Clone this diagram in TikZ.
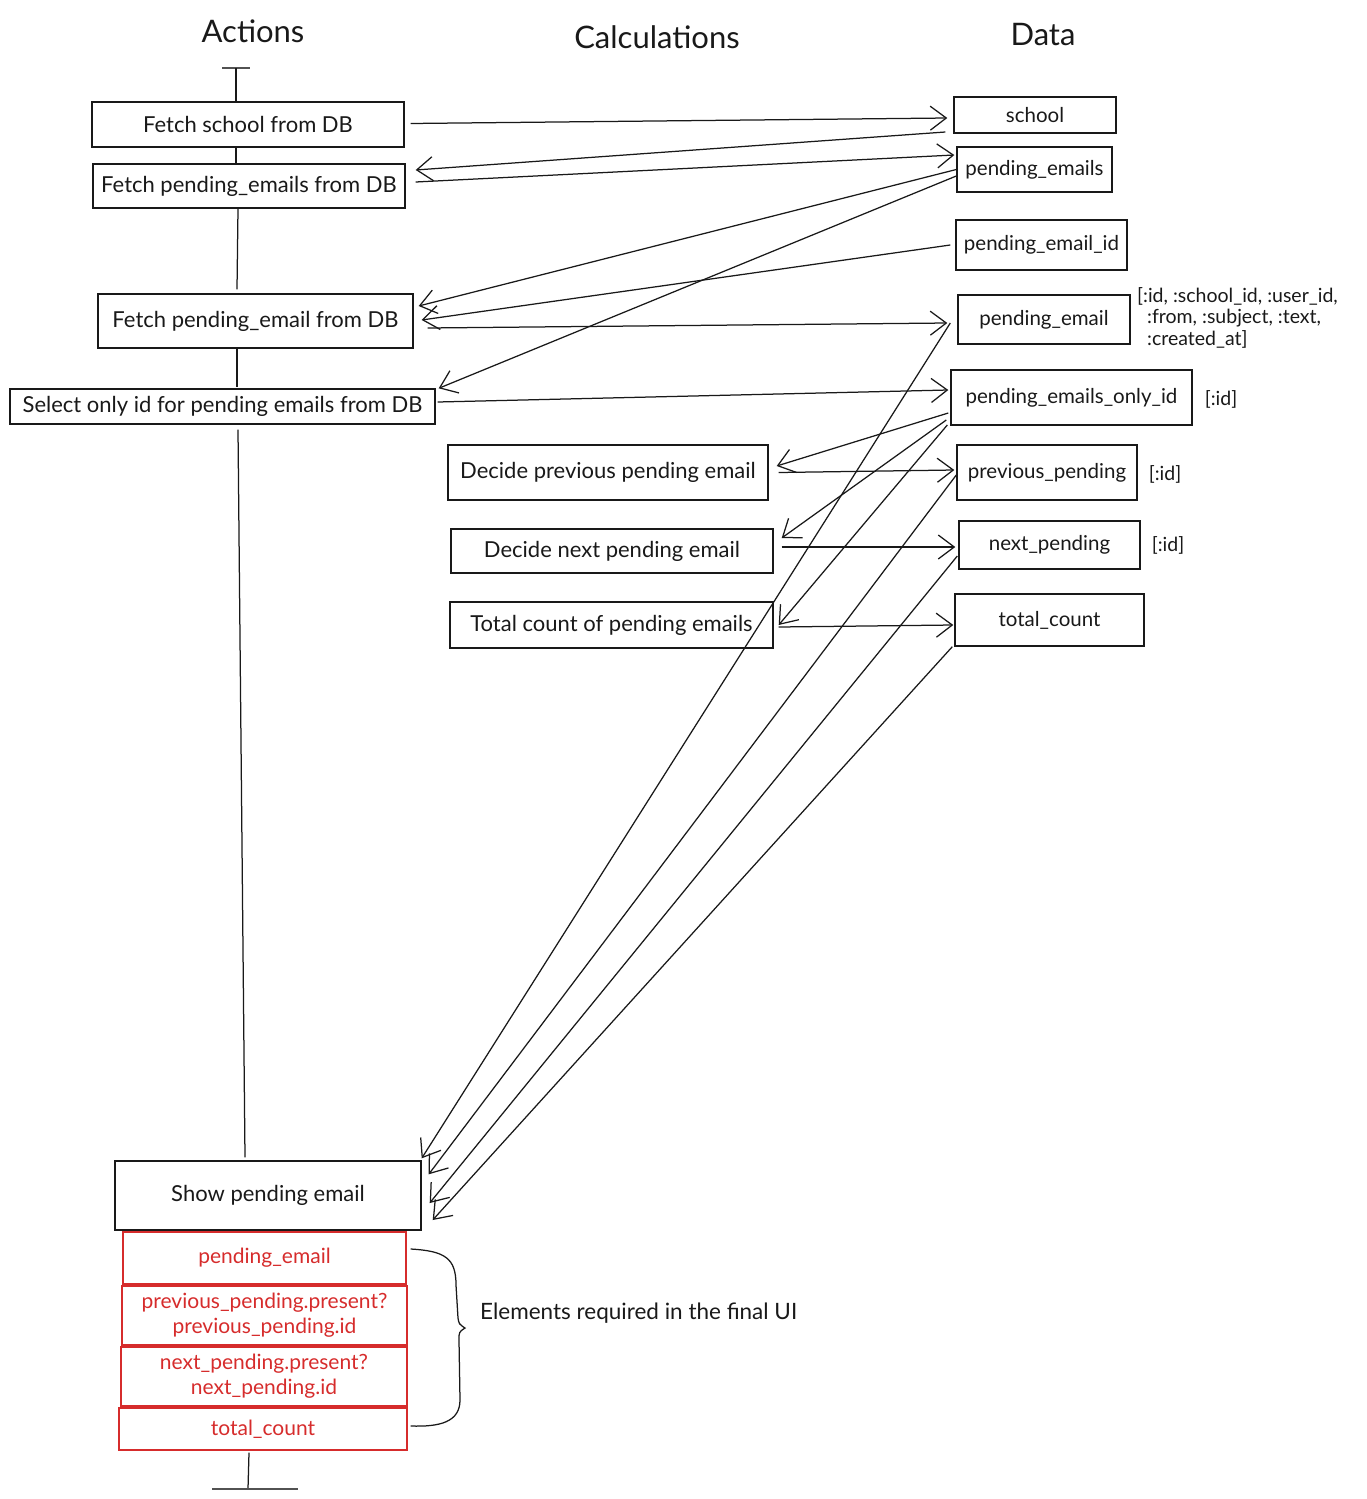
\documentclass[tikz,border=0pt]{standalone}
\usepackage{fontspec}
\setmainfont{Lato}
\usetikzlibrary{arrows.meta}
\definecolor{xred}{RGB}{214,44,44}
\definecolor{ink}{RGB}{25,25,25}
\begin{document}
\begin{tikzpicture}[x=1pt,y=-1pt,
  box/.style={draw=ink, line width=1.4pt, inner sep=0pt, font=\fontsize{22}{24}\selectfont, text=ink},
  databox/.style={box, font=\fontsize{20.5}{23}\selectfont},
  redbox/.style={draw=xred, line width=1.3pt, inner sep=0pt, font=\fontsize{21}{25}\selectfont, text=xred, align=center},
  title/.style={font=\fontsize{31}{34}\selectfont, text=ink},
  note/.style={font=\fontsize{19.5}{21.5}\selectfont, text=ink, inner sep=0pt},
  conn/.style={draw=ink, line width=1.25pt},
  arr/.style={conn, -{Straight Barb[length=16pt,width=24pt,line width=1.25pt]}},
  bar/.style={draw=ink!75, line width=2.4pt}
]
\useasboundingbox (0,0) rectangle (1366,1499);

% titles
\node[title] (tA) at (253,31) {Actions};
\node[title] (tC) at (657,37) {Calculations};
\node[title] (tD) at (1043,35) {Data};

% action boxes
\node[box, minimum width=312, minimum height=45] (fs) at (248,124.5) {Fetch school from DB};
\node[box, minimum width=312, minimum height=44] (fpes) at (249,186) {Fetch pending\_emails from DB};
\node[box, minimum width=315, minimum height=54] (fpe) at (255.5,321) {Fetch pending\_email from DB};
\node[box, minimum width=425, minimum height=35] (sel) at (222.5,406.5) {Select only id for pending emails from DB};
\node[box, minimum width=306, minimum height=69] (show) at (268,1195.5) {Show pending email};

% red boxes
\node[redbox, minimum width=283, minimum height=52] (r1) at (264.5,1258) {pending\_email};
\node[redbox, minimum width=285, minimum height=59] (r2) at (264.5,1315.5) {previous\_pending.present?\\previous\_pending.id};
\node[redbox, minimum width=286, minimum height=59] (r3) at (264,1376.5) {next\_pending.present?\\next\_pending.id};
\node[redbox, minimum width=288, minimum height=42] (r4) at (263,1429) {total\_count};

% calculation boxes
\node[box, minimum width=320, minimum height=55] (dp) at (608,472.5) {Decide previous pending email};
\node[box, minimum width=322, minimum height=44] (dn) at (612,551) {Decide next pending email};
\node[box, minimum width=323, minimum height=46] (tc) at (611.5,625) {Total count of pending emails};

% data boxes
\node[databox, minimum width=162, minimum height=36] (school) at (1035,115) {school};
\node[databox, minimum width=155, minimum height=45] (pes) at (1034.5,169.5) {pending\_emails};
\node[databox, minimum width=171, minimum height=50] (peid) at (1041.5,245) {pending\_email\_id};
\node[databox, minimum width=172, minimum height=49] (pe) at (1044,319.5) {pending\_email};
\node[databox, minimum width=241, minimum height=55] (peoi) at (1071.5,397.5) {pending\_emails\_only\_id};
\node[databox, minimum width=180, minimum height=55] (pp) at (1047,472.5) {previous\_pending};
\node[databox, minimum width=181, minimum height=48] (np) at (1049.5,545) {next\_pending};
\node[databox, minimum width=189, minimum height=52] (tcd) at (1049.5,620) {total\_count};

% side notes
\node[note, anchor=north west, align=left] (fields) at (1137,287) {[:id, :school\_id, :user\_id,\\\hspace*{10pt}:from, :subject, :text,\\\hspace*{10pt}:created\_at]};
\node[note] (id1) at (1221,399) {[:id]};
\node[note] (id2) at (1165,474) {[:id]};
\node[note] (id3) at (1168,545) {[:id]};
\node[font=\fontsize{22.5}{24}\selectfont, text=ink, anchor=west, inner sep=0pt] (elem) at (480,1313) {Elements required in the final UI};

% timeline
\coordinate (top) at (236,68);
\coordinate (topl) at (222,68);
\coordinate (topr) at (250,68);
\draw[bar] (topl) -- (topr);
\draw[conn] (top) -- ([xshift=-12]fs.north);
\draw[conn] ([xshift=-12]fs.south) -- ([xshift=-13]fpes.north);
\draw[conn] ([xshift=-11]fpes.south) -- ([xshift=-18.5,yshift=4]fpe.north);
\draw[conn] ([xshift=-18.5]fpe.south) -- ([xshift=14.5,yshift=1]sel.north);
\draw[conn] ([xshift=15.5,yshift=-5]sel.south) -- ([xshift=-23,yshift=3]show.north);
\coordinate (bot) at (248,1489);
\coordinate (botl) at (212,1489);
\coordinate (botr) at (298,1489);
\draw[conn] ([xshift=-14,yshift=-2]r4.south) -- (bot);
\draw[bar] (botl) -- (botr);

% arrows
\draw[arr] ([xshift=6,yshift=1]fs.east) -- ([xshift=-6,yshift=-3]school.west);
\draw[arr] ([xshift=-8,yshift=-17]school.west) -- ([xshift=10,yshift=16]fpes.east);
\draw[arr] ([xshift=10,yshift=4]fpes.east) -- ([xshift=-2,yshift=14.5]pes.west);
\draw[arr] (pes.west) -- ([xshift=5,yshift=15]fpe.east);
\draw[arr] ([yshift=-6.5]pes.west) -- ([xshift=3]sel.north east);
\draw[arr] ([xshift=-5]peid.west) -- ([xshift=8,yshift=1]fpe.east);
\draw[arr] ([xshift=14,yshift=-7]fpe.east) -- ([xshift=-10,yshift=-3.5]pe.west);
\draw[arr] ([xshift=2,yshift=4.5]sel.east) -- ([xshift=-2,yshift=7.5]peoi.west);
\draw[arr] ([xshift=-2,yshift=-15.5]peoi.west) -- ([xshift=8,yshift=6.5]dp.east);
\draw[arr] ([xshift=10]dp.east) -- ([xshift=-2,yshift=2.5]pp.west);
\draw[arr] ([xshift=-4,yshift=-22.5]peoi.west) -- ([xshift=8,yshift=13]dn.east);
\draw[arr] ([xshift=8,yshift=4]dn.east) -- ([xshift=-3,yshift=-2]np.west);
\draw[arr] ([xshift=-3,yshift=-27.5]peoi.west) -- ([xshift=5]tc.east);
\draw[arr] ([xshift=5,yshift=-2]tc.east) -- ([xshift=-1,yshift=-5]tcd.west);
\draw[arr] ([xshift=-7,yshift=-3.5]pe.west) -- ([yshift=2]show.north east);
\draw[arr] ([yshift=-2.5]pp.west) -- ([xshift=7,yshift=-14]show.north east);
\draw[arr] ([xshift=-1,yshift=-11]np.west) -- ([xshift=8,yshift=-7.5]show.east);
\draw[arr] ([xshift=-2]tcd.south west) -- ([xshift=11,yshift=-24.5]show.east);

% brace
\draw[conn] ([xshift=4,yshift=9]r1.east) .. controls (445,1251) and (456,1258) .. (456,1285)
  -- (458,1318) .. controls (459,1324) .. (465,1328)
  .. controls (459,1332) .. (459,1340) -- (460,1400)
  .. controls (460,1422) and (440,1427) .. ([xshift=3,yshift=3]r4.east);
\end{tikzpicture}
\end{document}
